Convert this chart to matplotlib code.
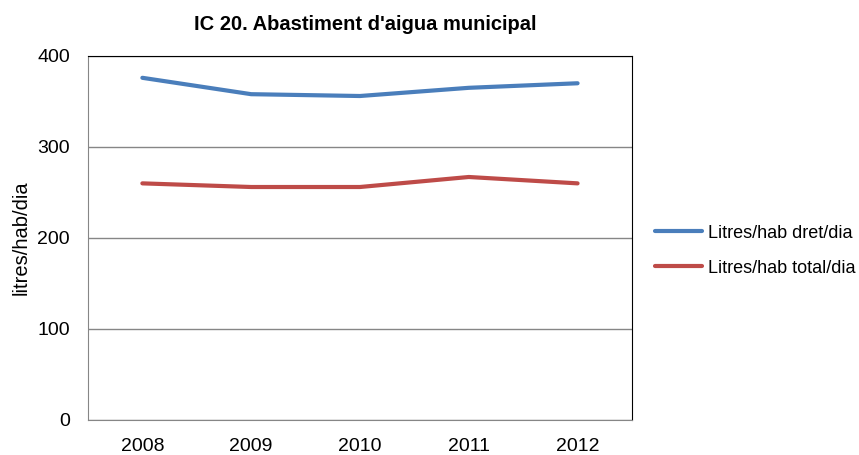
import matplotlib
matplotlib.use("Agg")
import matplotlib.pyplot as plt

# values
years = ["2008", "2009", "2010", "2011", "2012"]
dret = [376, 358, 356, 365, 370]
total = [260, 256, 256, 267, 260]

plt.rcParams["font.family"] = ["Liberation Sans", "DejaVu Sans"]

fig = plt.figure(figsize=(8.59, 4.55), dpi=100)
ax = fig.add_axes([0.1024, 0.077, 0.6333, 0.800])

x = range(len(years))
ax.plot(x, dret, color="#4A7EBB", lw=3, label="Litres/hab dret/dia", solid_capstyle="round")
ax.plot(x, total, color="#BE4B48", lw=3, label="Litres/hab total/dia", solid_capstyle="round")

ax.set_xlim(-0.5, 4.5)
ax.set_ylim(0, 400)
ax.set_xticks(list(x))
ax.set_xticklabels(years)
ax.set_yticks([0, 100, 200, 300, 400])
ax.yaxis.grid(True, color="#868686", lw=1)
ax.set_axisbelow(True)
ax.tick_params(axis="both", length=0, labelsize=14)
ax.tick_params(axis="x", pad=13)
ax.tick_params(axis="y", pad=13)

for s in ["left", "bottom"]:
    ax.spines[s].set_color("#868686")
for s in ["top", "right"]:
    ax.spines[s].set_color("black")

ax.set_ylabel("litres/hab/dia", fontsize=14.5, labelpad=5)
fig.text(0.4255, 0.947, "IC 20. Abastiment d'aigua municipal", ha="center", va="center",
         fontsize=14.5, fontweight="bold")

ax.legend(loc="center left", bbox_to_anchor=(1.013, 0.465), frameon=False, fontsize=13,
          handlelength=2.6, handletextpad=0.3, labelspacing=1.0)

fig.savefig("out.png", dpi=100)
